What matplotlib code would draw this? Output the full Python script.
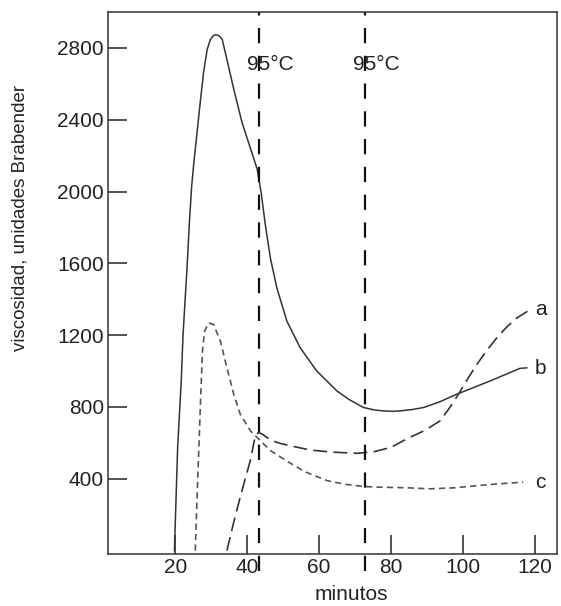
import matplotlib
matplotlib.use("Agg")
import matplotlib.pyplot as plt

plt.rcParams['font.family'] = ['Liberation Sans', 'DejaVu Sans']
plt.rcParams['lines.scale_dashes'] = False

# Curve b (solid)
b_x = [19.8, 20.7, 21.7, 22.2, 23.3, 24.0, 24.6, 25.3, 26.1, 27.0, 27.9, 28.9, 29.8, 30.6, 31.4, 32.3,
       33.1, 34.4, 36.3, 38.6, 40.4, 42.8, 43.9, 45.1, 46.5, 48.3, 51.1, 54.8, 59.4, 65.0, 68.5,
       72.4, 75.5, 77.9, 80.5, 82.6, 86.0, 89.1, 93.5, 98.3, 103.0, 107.6, 112.0, 115.9, 117.8]
b_y = [0, 575, 945, 1203, 1572, 1840, 2030, 2180, 2330, 2500, 2662, 2791, 2847, 2868, 2874, 2866,
       2847, 2736, 2570, 2385, 2274, 2126, 1997, 1813, 1628, 1462, 1277, 1129, 1000, 889, 840,
       797, 783, 778, 776, 778, 786, 797, 828, 871, 908, 945, 982, 1015, 1018]

# Curve a (long dash)
a_x = [34.4, 36.2, 38.1, 39.5, 40.9, 42.3, 43.2, 44.3, 45.5, 47.3, 49.2, 52.0, 57.6, 64.0, 70.6,
       75.2, 80.0, 84.9, 89.5, 93.7, 96.5, 98.8, 101.3, 103.9, 106.7, 109.4, 112.2, 115.0, 118.7]
a_y = [0, 150, 298, 400, 501, 640, 658, 648, 630, 610, 597, 584, 560, 548, 542,
       550, 575, 627, 670, 723, 800, 871, 955, 1037, 1115, 1184, 1245, 1295, 1342]

# Curve c (short dash)
c_x = [25.6, 26.1, 26.6, 27.1, 27.6, 28.2, 29.3, 30.7, 32.6, 34.4, 36.3, 38.1, 40.9, 42.8, 46.5,
       51.6, 56.0, 62.2, 67.0, 72.4, 77.0, 84.4, 90.9, 98.0, 104.8, 110.0, 116.8]
c_y = [0, 298, 575, 852, 1111, 1222, 1268, 1259, 1166, 1018, 871, 760, 668, 630, 557,
       492, 440, 390, 370, 357, 353, 350, 344, 350, 363, 372, 381]

temp_lines_x = [43.2, 72.7]
temp_labels = ["95°C", "95°C"]
temp_label_x = [39.9, 69.4]
temp_label_y = 2708

curve_labels = ["a", "b", "c"]
curve_label_y = [1342, 1017, 381]

x_ticks = [20, 40, 60, 80, 100, 120]
y_ticks = [400, 800, 1200, 1600, 2000, 2400, 2800]

fig = plt.figure(figsize=(5.61, 6.06), dpi=100)
ax = fig.add_axes([108/561, 1-554/606, (557-108)/561, (554-12)/606])

ax.plot(b_x, b_y, color='#333333', lw=1.1, solid_joinstyle='round')
ax.plot(a_x, a_y, color='#333333', lw=1.2, linestyle=(0, (10, 4.5)))
ax.plot(c_x, c_y, color='#555555', lw=1.2, linestyle=(0, (4.5, 3)))

for xv in temp_lines_x:
    ax.plot([xv, xv], [-113, 3000], color='#111111', lw=1.6,
            linestyle=(0, (11, 9)), clip_on=False)

for xl, t in zip(temp_label_x, temp_labels):
    ax.text(xl, temp_label_y, t, fontsize=15, ha='left', va='center', color='#222222')

for lab, yv in zip(curve_labels, curve_label_y):
    ax.text(120.1, yv, lab, fontsize=15, ha='left', va='center', color='#222222')

ax.set_xlim(1.33, 126.2)
ax.set_ylim(-19, 3000)
ax.set_xticks(x_ticks)
ax.set_yticks(y_ticks)
ax.tick_params(direction='in', length=13.5, width=1.1, pad=3, labelsize=15,
               colors='#222222')
for s in ax.spines.values():
    s.set_linewidth(1.1)
    s.set_color('#333333')

fig.text(351/561, 1-595/606, "minutos", fontsize=15, ha='center', va='center', color='#222222')
fig.text(20/561, 1-218/606, "viscosidad, unidades Brabender", fontsize=13.5, rotation=90,
         ha='center', va='center', color='#222222')

fig.savefig("out.png", dpi=100)
